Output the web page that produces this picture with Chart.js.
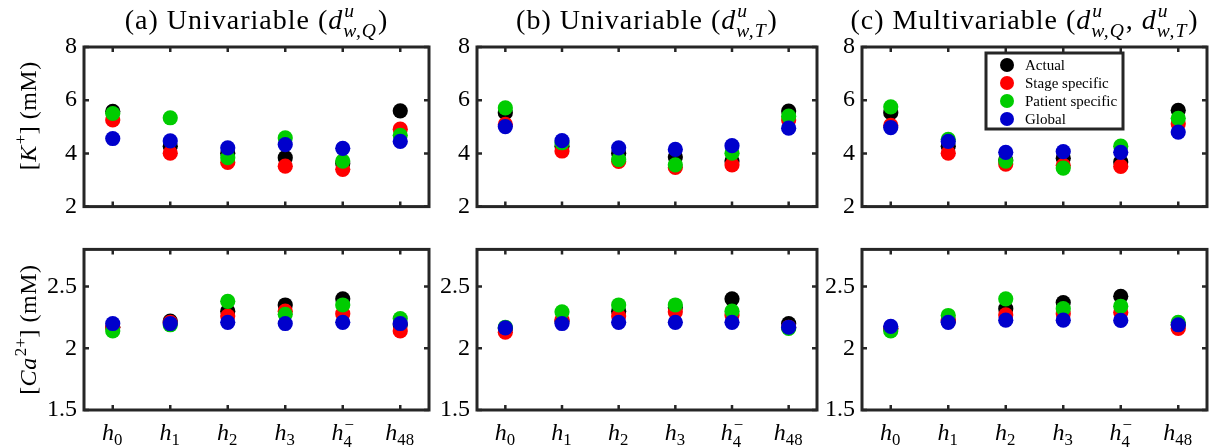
<!DOCTYPE html>
<html><head><meta charset="utf-8">
<script src="https://cdn.jsdelivr.net/npm/chart.js@4.4.1/dist/chart.umd.min.js"></script>
<style>
html,body{margin:0;padding:0;background:#fff;width:1225px;height:448px;overflow:hidden;position:relative}
canvas{position:absolute}
</style></head><body>
<script>
// ---------- data ----------
const categories = ['$h_0$', '$h_1$', '$h_2$', '$h_3$', '$h_4^-$', '$h_{48}$'];
const seriesNames = ['Actual', 'Stage specific', 'Patient specific', 'Global'];
const seriesColors = ['#000000', '#ff0000', '#00cc00', '#0000cc'];
const panelTitles = ['(a) Univariable ($d^u_{w,Q}$)', '(b) Univariable ($d^u_{w,T}$)', '(c) Multivariable ($d^u_{w,Q}$, $d^u_{w,T}$)'];
const yTitleK = '[$K^+$] (mM)';
const yTitleCa = '[$Ca^{2+}$] (mM)';
const kTicks = [2, 4, 6, 8];
const caTicks = [1.5, 2, 2.5];

// [K+] panel (a)
const kA_actual   = [5.58, 4.27, 4.01, 3.84, 3.62, 5.60];
const kA_stage    = [5.26, 4.01, 3.66, 3.52, 3.40, 4.91];
const kA_patient  = [5.50, 5.34, 3.84, 4.58, 3.71, 4.68];
const kA_global   = [4.56, 4.47, 4.21, 4.33, 4.19, 4.45];
// [K+] panel (b)
const kB_actual   = [5.53, 4.27, 4.01, 3.86, 3.71, 5.59];
const kB_stage    = [5.09, 4.09, 3.70, 3.47, 3.57, 5.26];
const kB_patient  = [5.71, 4.40, 3.77, 3.57, 4.01, 5.40];
const kB_global   = [5.01, 4.48, 4.21, 4.15, 4.29, 4.95];
// [K+] panel (c)
const kC_actual   = [5.53, 4.27, 3.75, 3.82, 3.68, 5.62];
const kC_stage    = [5.05, 4.01, 3.60, 3.55, 3.51, 5.11];
const kC_patient  = [5.75, 4.53, 3.71, 3.45, 4.27, 5.32];
const kC_global   = [4.97, 4.45, 4.04, 4.07, 4.04, 4.80];
// [Ca2+] panel (a)
const caA_actual  = [2.17, 2.22, 2.30, 2.35, 2.40, 2.19];
const caA_stage   = [2.17, 2.21, 2.26, 2.30, 2.28, 2.14];
const caA_patient = [2.14, 2.19, 2.38, 2.275, 2.35, 2.24];
const caA_global  = [2.20, 2.20, 2.21, 2.20, 2.21, 2.20];
// [Ca2+] panel (b)
const caB_actual  = [2.16, 2.22, 2.30, 2.33, 2.40, 2.20];
const caB_stage   = [2.13, 2.23, 2.26, 2.295, 2.27, 2.17];
const caB_patient = [2.17, 2.295, 2.35, 2.35, 2.30, 2.16];
const caB_global  = [2.164, 2.20, 2.21, 2.21, 2.21, 2.17];
// [Ca2+] panel (c)
const caC_actual  = [2.16, 2.22, 2.32, 2.37, 2.42, 2.19];
const caC_stage   = [2.16, 2.23, 2.27, 2.28, 2.29, 2.16];
const caC_patient = [2.14, 2.265, 2.40, 2.32, 2.34, 2.21];
const caC_global  = [2.177, 2.21, 2.227, 2.227, 2.225, 2.19];

// ---------- rich text helpers ----------
const FAMILY = '"Liberation Serif", "Times New Roman", serif';
function fnt(size, italic) { return (italic ? 'italic ' : '') + size + 'px ' + FAMILY; }
function parseTex(s) {
  const runs = []; let math = false; let i = 0;
  const readArg = () => {
    if (s[i] === '{') { const j = s.indexOf('}', i); const a = s.slice(i + 1, j); i = j + 1; return a; }
    return s[i++];
  };
  while (i < s.length) {
    const c = s[i];
    if (c === '$') { math = !math; i++; continue; }
    if (c === '^' || c === '_') {
      i++; let a = readArg().replace(/-/g, '\u2212');
      const last = runs[runs.length - 1];
      if (c === '^') last.sup = a; else last.sub = a;
      continue;
    }
    const it = math && /[A-Za-z]/.test(c);
    const last = runs[runs.length - 1];
    if (last && !last.sup && !last.sub && last.italic === it) last.text += c;
    else runs.push({ text: c, italic: it });
    i++;
  }
  return runs;
}
function scriptItalic(t) { return /[A-Za-z]/.test(t); }
function runsWidth(ctx, runs, size) {
  let w = 0; const ss = size * 0.7;
  runs.forEach(r => {
    ctx.font = fnt(size, r.italic); w += ctx.measureText(r.text).width;
    let a = 0, b = 0;
    if (r.sup) { ctx.font = fnt(ss, scriptItalic(r.sup)); a = ctx.measureText(r.sup).width + 1; }
    if (r.sub) { ctx.font = fnt(ss, scriptItalic(r.sub)); b = ctx.measureText(r.sub).width + 1; }
    w += Math.max(a, b);
  });
  return w;
}
function drawRich(ctx, str, x, y, size, align, spacing) {
  ctx.letterSpacing = (spacing || 0) + 'px';
  const runs = parseTex(str); const ss = size * 0.7;
  let cx = x;
  if (align === 'center') cx = x - runsWidth(ctx, runs, size) / 2;
  ctx.textAlign = 'left'; ctx.textBaseline = 'alphabetic'; ctx.fillStyle = '#000';
  runs.forEach(r => {
    ctx.font = fnt(size, r.italic); ctx.fillText(r.text, cx, y); cx += ctx.measureText(r.text).width;
    let a = 0, b = 0;
    if (r.sup) { ctx.font = fnt(ss, scriptItalic(r.sup)); ctx.fillText(r.sup, cx + 1, y - size * 0.42); a = ctx.measureText(r.sup).width + 1; }
    if (r.sub) { ctx.font = fnt(ss, scriptItalic(r.sub)); ctx.fillText(r.sub, cx + (r.italic ? 0 : 1), y + size * (r.sup ? 0.3 : 0.22)); b = ctx.measureText(r.sub).width + 1; }
    cx += Math.max(a, b);
  });
  ctx.letterSpacing = '0px';
}

// ---------- plugins ----------
function decorPlugin(cfg) {
  return {
    id: 'decor',
    afterDraw(chart) {
      const ctx = chart.ctx; const ca = chart.chartArea;
      const xs = chart.scales.x, ys = chart.scales.y;
      ctx.save();
      // inward ticks
      ctx.strokeStyle = '#262626'; ctx.lineWidth = 2.5;
      ctx.beginPath();
      xs.ticks.forEach((t, i) => {
        const px = xs.getPixelForTick(i);
        ctx.moveTo(px, ca.top); ctx.lineTo(px, ca.top + 5);
        ctx.moveTo(px, ca.bottom); ctx.lineTo(px, ca.bottom - 5);
      });
      ys.ticks.forEach(t => {
        const py = ys.getPixelForValue(t.value);
        ctx.moveTo(ca.left, py); ctx.lineTo(ca.left + 5, py);
        ctx.moveTo(ca.right, py); ctx.lineTo(ca.right - 5, py);
      });
      ctx.stroke();
      // box
      ctx.lineWidth = 3;
      ctx.strokeRect(ca.left, ca.top, ca.right - ca.left, ca.bottom - ca.top);
      // title
      if (cfg.title) drawRich(ctx, cfg.title, (ca.left + ca.right) / 2 + (cfg.titleDx || 0), 29, 28, 'center', 1);
      // x labels
      if (cfg.xLabels) {
        xs.ticks.forEach((t, i) => {
          drawRich(ctx, categories[i], xs.getPixelForTick(i), ca.bottom + 30, 24, 'center');
        });
      }
      // y title
      if (cfg.yTitle) {
        ctx.save();
        ctx.translate(28, (ca.top + ca.bottom) / 2 + (cfg.yTitleDy || 0));
        ctx.rotate(-Math.PI / 2);
        drawRich(ctx, cfg.yTitle, 0, 8, 24, 'center', 0.5);
        ctx.restore();
      }
      // legend
      if (cfg.legend) {
        const bx = ca.left + 124, by = ca.top + 6, bw = 137, bh = 76;
        ctx.fillStyle = '#fff'; ctx.fillRect(bx, by, bw, bh);
        ctx.lineWidth = 3; ctx.strokeStyle = '#262626'; ctx.strokeRect(bx, by, bw, bh);
        chart.data.datasets.forEach((d, i) => {
          const cy = by + 12 + i * 18;
          ctx.beginPath(); ctx.fillStyle = d.pointBackgroundColor;
          ctx.arc(bx + 21, cy, 7, 0, Math.PI * 2); ctx.fill();
          ctx.fillStyle = '#000'; ctx.font = fnt(15, false);
          ctx.textAlign = 'left'; ctx.textBaseline = 'alphabetic';
          ctx.fillText(d.label, bx + 39, cy + 5);
        });
      }
      ctx.restore();
    }
  };
}

// ---------- chart factory ----------
function makeChart(geom, series, yMin, yMax, yTicks, cfg) {
  const cv = document.createElement('canvas');
  cv.width = geom.W; cv.height = geom.H;
  cv.style.left = geom.L + 'px'; cv.style.top = geom.T + 'px';
  cv.style.width = geom.W + 'px'; cv.style.height = geom.H + 'px';
  document.body.appendChild(cv);
  const datasets = series.map((vals, i) => ({
    label: seriesNames[i],
    data: vals,
    showLine: false,
    pointRadius: 7.6,
    pointBorderWidth: 0,
    pointBackgroundColor: seriesColors[i],
    borderColor: seriesColors[i],
    backgroundColor: seriesColors[i],
    order: series.length - i
  }));
  return new Chart(cv, {
    type: 'line',
    data: { labels: categories, datasets },
    options: {
      responsive: false, animation: false, events: [],
      devicePixelRatio: 1,
      layout: { autoPadding: false, padding: { left: geom.pl, right: geom.pr, top: geom.pt, bottom: 0 } },
      plugins: { legend: { display: false }, tooltip: { enabled: false } },
      scales: {
        x: {
          type: 'category', offset: true,
          grid: { display: false, drawTicks: false }, border: { display: false },
          ticks: { display: false },
          afterFit(s) { s.height = geom.xH; }
        },
        y: {
          type: 'linear', min: yMin, max: yMax,
          grid: { display: false, drawTicks: false }, border: { display: false },
          ticks: { color: '#000', padding: 7, font: { family: FAMILY, size: 24 }, callback: v => String(v) },
          afterBuildTicks(s) { s.ticks = yTicks.map(v => ({ value: v })); },
          afterFit(s) { s.width = geom.yW; }
        }
      }
    },
    plugins: [decorPlugin(cfg)]
  });
}

const cols = [
  { L: 0,   W: 440, pl: 0, yW: 84, pr: 11 },
  { L: 400, W: 430, pl: 0, yW: 77, pr: 13 },
  { L: 780, W: 445, pl: 0, yW: 82, pr: 18 }
];
const topRow = { T: 0, H: 228, pt: 47, xH: 10 };
const botRow = { T: 228, H: 220, pt: 10, xH: 38 };

const kSeries = [
  [kA_actual, kA_stage, kA_patient, kA_global],
  [kB_actual, kB_stage, kB_patient, kB_global],
  [kC_actual, kC_stage, kC_patient, kC_global]
];
const caSeries = [
  [caA_actual, caA_stage, caA_patient, caA_global],
  [caB_actual, caB_stage, caB_patient, caB_global],
  [caC_actual, caC_stage, caC_patient, caC_global]
];
const titleDx = [0, 0, -10];

cols.forEach((c, p) => {
  makeChart(Object.assign({}, c, topRow), kSeries[p], 2, 8, kTicks,
    { title: panelTitles[p], titleDx: titleDx[p], yTitle: p === 0 ? yTitleK : null, yTitleDy: -11, legend: p === 2 });
  makeChart(Object.assign({}, c, botRow), caSeries[p], 1.5, 2.8, caTicks,
    { xLabels: true, yTitle: p === 0 ? yTitleCa : null, yTitleDy: 0 });
});
</script>
</body></html>
